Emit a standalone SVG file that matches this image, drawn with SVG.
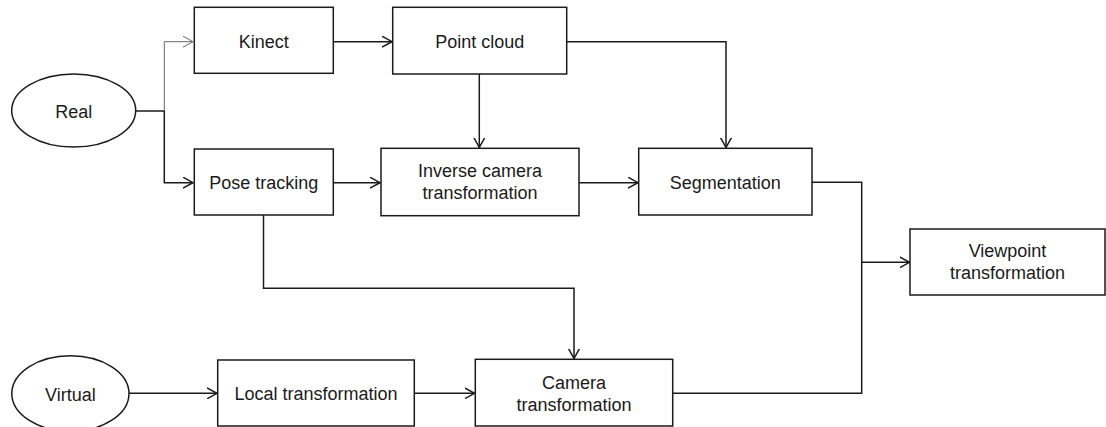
<svg xmlns="http://www.w3.org/2000/svg" width="1106" height="427" viewBox="0 0 1106 427">
<style>
.box{fill:#fff;stroke:#1a1a1a;stroke-width:1.5}
.lbl{font-family:"Liberation Sans",Arial,sans-serif;font-size:18px;fill:#1a1a1a;text-anchor:middle}
.ln{fill:none;stroke:#1a1a1a;stroke-width:1.5}
.thin{fill:none;stroke:#666;stroke-width:1}
</style>
<defs>
<marker id="arr" markerUnits="userSpaceOnUse" markerWidth="12" markerHeight="12" refX="10" refY="5.5" orient="auto" viewBox="0 0 12 11">
<path d="M0,0 L10,5.5 L0,11" fill="none" stroke="#1a1a1a" stroke-width="1.5"/>
</marker>
<marker id="arrthin" markerUnits="userSpaceOnUse" markerWidth="12" markerHeight="12" refX="10" refY="5.5" orient="auto" viewBox="0 0 12 11">
<path d="M0,0 L10,5.5 L0,11" fill="none" stroke="#666" stroke-width="1"/>
</marker>
</defs>
<rect width="1106" height="427" fill="#fff"/>
<g id="connectors">
<path class="ln" d="M135.7,111 H164.3 V182.7 H193" marker-end="url(#arr)"/>
<path class="thin" d="M164.3,111 V41.7 H193" marker-end="url(#arrthin)"/>
<path class="ln" d="M333.3,41.7 H392" marker-end="url(#arr)"/>
<path class="ln" d="M479.3,74 V147.5" marker-end="url(#arr)"/>
<path class="ln" d="M566.7,41.7 H726 V147.5" marker-end="url(#arr)"/>
<path class="ln" d="M333.3,182.7 H380" marker-end="url(#arr)"/>
<path class="ln" d="M579,182.7 H638" marker-end="url(#arr)"/>
<path class="ln" d="M263.5,215 V288.3 H574 V358.5" marker-end="url(#arr)"/>
<path class="ln" d="M129,393.3 H217" marker-end="url(#arr)"/>
<path class="ln" d="M414.3,393.3 H474.5" marker-end="url(#arr)"/>
<path class="ln" d="M812,182.3 H861.7 V393.3 H672.7"/>
<path class="ln" d="M861.7,262.3 H909.5" marker-end="url(#arr)"/>
</g>
<g id="real">
<ellipse class="box" cx="73.7" cy="110.5" rx="62" ry="36.5"/>
<text class="lbl" x="73.7" y="117.5">Real</text>
</g>
<g id="virtual">
<ellipse class="box" cx="70.4" cy="393.5" rx="58.6" ry="37.8"/>
<text class="lbl" x="70.4" y="400.5">Virtual</text>
</g>
<g id="kinect">
<rect class="box" x="194.3" y="7.3" width="139" height="66"/>
<text class="lbl" x="263.8" y="47.5">Kinect</text>
</g>
<g id="pointcloud">
<rect class="box" x="392.7" y="7.3" width="174" height="66.7"/>
<text class="lbl" x="479.7" y="47.5">Point cloud</text>
</g>
<g id="posetracking">
<rect class="box" x="194.3" y="149" width="139" height="66"/>
<text class="lbl" x="263.8" y="189">Pose tracking</text>
</g>
<g id="inversecamera">
<rect class="box" x="381" y="148.3" width="198" height="67.4"/>
<text class="lbl" x="480" y="177.3">Inverse camera</text>
<text class="lbl" x="480" y="199.3">transformation</text>
</g>
<g id="segmentation">
<rect class="box" x="638.7" y="148.3" width="173.3" height="66.7"/>
<text class="lbl" x="725.3" y="189">Segmentation</text>
</g>
<g id="viewpoint">
<rect class="box" x="910" y="229" width="195" height="66"/>
<text class="lbl" x="1007.5" y="257.3">Viewpoint</text>
<text class="lbl" x="1007.5" y="279">transformation</text>
</g>
<g id="local">
<rect class="box" x="217.7" y="360" width="196.6" height="66"/>
<text class="lbl" x="316" y="400">Local transformation</text>
</g>
<g id="camera">
<rect class="box" x="475.3" y="359.3" width="197.4" height="66.7"/>
<text class="lbl" x="574" y="389">Camera</text>
<text class="lbl" x="574" y="411">transformation</text>
</g>
</svg>
